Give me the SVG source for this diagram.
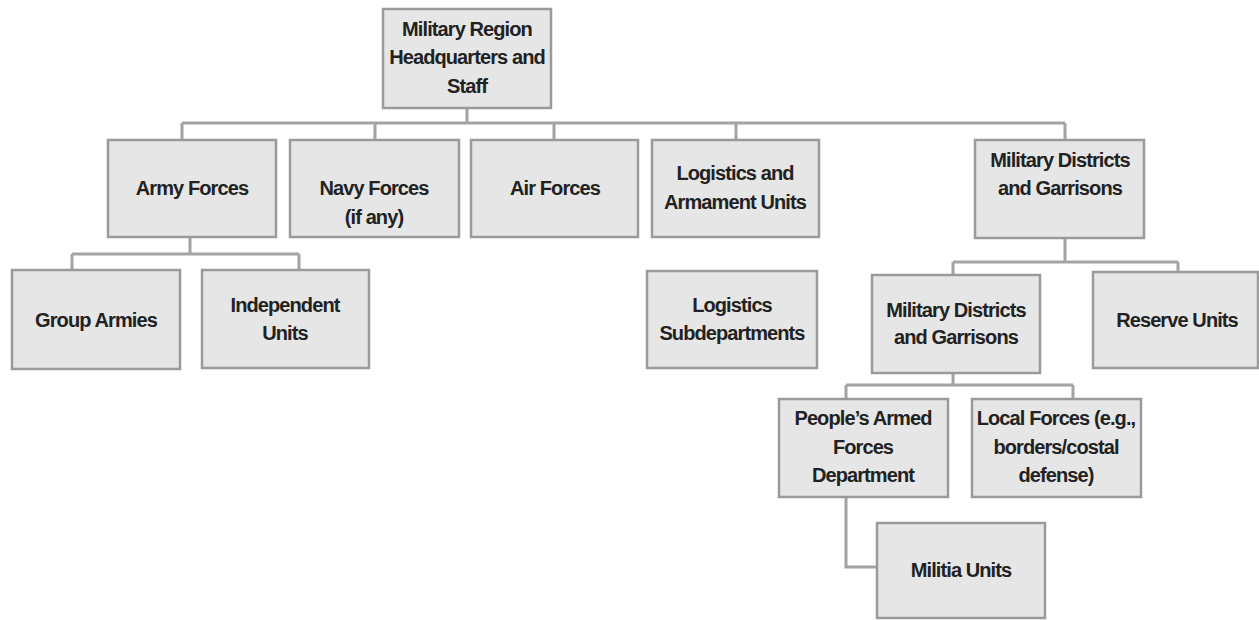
<svg xmlns="http://www.w3.org/2000/svg" width="1259" height="620" viewBox="0 0 1259 620">
<style>
.box{fill:#e6e6e6;stroke:#9a9a9a;stroke-width:2.5}
.t{font-family:"Liberation Sans Narrow","Liberation Sans",Arial,sans-serif;font-weight:bold;font-size:20px;fill:#222;text-anchor:middle;dominant-baseline:central;letter-spacing:-0.9px}
.c{fill:none;stroke:#a3a3a3;stroke-width:3}
</style>
<rect x="0" y="0" width="1259" height="620" fill="#fff"/>
<g id="connectors">
<path class="c" d="M467 108V123M182 123H1065M182 123V140M375 123V140M554 123V140M736 123V140M1065 123V140"/>
<path class="c" d="M190 237V254M72 254H299M72 254V270M299 254V270"/>
<path class="c" d="M1065 238V262M953 262H1178M953 262V275M1178 262V272"/>
<path class="c" d="M953 373V385M846 385H1073M846 385V399M1073 385V399"/>
<path class="c" d="M846 497V567H877"/>
</g>
<g id="n-hq"><rect class="box" x="383" y="9" width="168" height="99"/><text class="t" x="467" y="29">Military Region</text><text class="t" x="467" y="57">Headquarters and</text><text class="t" x="467" y="86">Staff</text></g>
<g id="n-army"><rect class="box" x="108" y="140" width="168" height="97"/><text class="t" x="192" y="188">Army Forces</text></g>
<g id="n-navy"><rect class="box" x="290" y="140" width="169" height="97"/><text class="t" x="374" y="188">Navy Forces</text><text class="t" x="374" y="217">(if any)</text></g>
<g id="n-air"><rect class="box" x="471" y="140" width="167" height="97"/><text class="t" x="555" y="188">Air Forces</text></g>
<g id="n-log"><rect class="box" x="652" y="140" width="167" height="97"/><text class="t" x="735" y="173">Logistics and</text><text class="t" x="735" y="202">Armament Units</text></g>
<g id="n-md"><rect class="box" x="975" y="140" width="169" height="98"/><text class="t" x="1060" y="160">Military Districts</text><text class="t" x="1060" y="188">and Garrisons</text></g>
<g id="n-ga"><rect class="box" x="12" y="270" width="168" height="99"/><text class="t" x="96" y="320">Group Armies</text></g>
<g id="n-iu"><rect class="box" x="202" y="270" width="167" height="98"/><text class="t" x="285" y="305">Independent</text><text class="t" x="285" y="333">Units</text></g>
<g id="n-ls"><rect class="box" x="647" y="271" width="170" height="97"/><text class="t" x="732" y="305">Logistics</text><text class="t" x="732" y="333">Subdepartments</text></g>
<g id="n-md2"><rect class="box" x="872" y="275" width="168" height="98"/><text class="t" x="956" y="310">Military Districts</text><text class="t" x="956" y="337">and Garrisons</text></g>
<g id="n-ru"><rect class="box" x="1093" y="272" width="165" height="96"/><text class="t" x="1177" y="320">Reserve Units</text></g>
<g id="n-pafd"><rect class="box" x="779" y="399" width="169" height="98"/><text class="t" x="863" y="418">People’s Armed</text><text class="t" x="863" y="447">Forces</text><text class="t" x="863" y="475">Department</text></g>
<g id="n-lf"><rect class="box" x="972" y="399" width="169" height="98"/><text class="t" x="1056" y="418">Local Forces (e.g.,</text><text class="t" x="1056" y="447">borders/costal</text><text class="t" x="1056" y="475">defense)</text></g>
<g id="n-mu"><rect class="box" x="877" y="523" width="168" height="95"/><text class="t" x="961" y="570">Militia Units</text></g>
</svg>
